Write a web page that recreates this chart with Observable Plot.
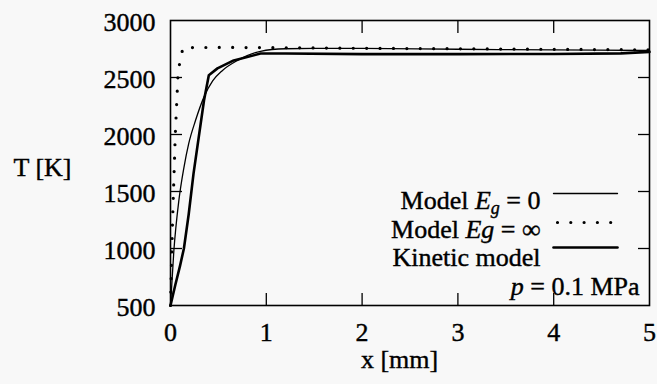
<!DOCTYPE html>
<html><head><meta charset="utf-8">
<script src="https://cdn.jsdelivr.net/npm/d3@7"></script>
<script src="https://cdn.jsdelivr.net/npm/@observablehq/plot@0.6"></script>
<style>
html,body{margin:0;padding:0;background:#f8f8f8}
#chart svg text{stroke:#000;stroke-width:0.4px;}
</style>
</head><body><div id="chart"></div>
<script>
// ---- data ----
const xTicks = [0, 1, 2, 3, 4, 5];
const yTicks = [500, 1000, 1500, 2000, 2500, 3000];

const eg0X = [0, 0.035, 0.087, 0.14, 0.19, 0.26, 0.35, 0.44, 0.54, 0.70, 0.94, 1.2, 1.5, 2, 3, 4, 5];
const eg0T = [500, 980, 1420, 1710, 1920, 2120, 2330, 2470, 2560, 2650, 2730, 2752, 2756, 2755, 2748, 2742, 2737];

const egInfX = [0, 0.02, 0.05, 0.08, 0.13, 0.5, 1, 2, 3, 4, 5];
const egInfT = [500, 1200, 2000, 2560, 2762, 2764, 2762, 2756, 2752, 2747, 2743];

const kinX = [0, 0.05, 0.1, 0.14, 0.19, 0.24, 0.35, 0.40, 0.49, 0.66, 0.94, 1.2, 2, 3, 4, 4.7, 5];
const kinT = [500, 680, 850, 1000, 1300, 1655, 2300, 2520, 2580, 2650, 2710, 2710, 2705, 2705, 2706, 2712, 2725];

const legendLabels = ["Model E_g = 0", "Model Eg = ∞", "Kinetic model"];
const pressureLabel = "p = 0.1 MPa";
const xLabel = "x [mm]";
const yLabel = "T [K]";

const toRows = (xs, ts) => xs.map((x, i) => ({x, T: ts[i]}));
const lineShape = {draw(context, l) { context.moveTo(0, 0); context.lineTo(0, -l); }};

const serif = "Liberation Serif, serif";
const inner = xTicks.slice(1, -1);
const innerY = yTicks.slice(1, -1);
// inward ticks: an axis whose ticks are shifted back across the frame edge
const tickOnly = {tickSize: 12, tickFormat: () => "", label: null, stroke: "#000", strokeWidth: 1.3};

const chart = Plot.plot({
  width: 657, height: 384,
  marginLeft: 170, marginRight: 8, marginTop: 20, marginBottom: 79,
  x: {domain: [0, 5]},
  y: {domain: [500, 3000]},
  style: {fontFamily: serif, fontSize: "26px", background: "#f8f8f8", color: "#000"},
  marks: [
    Plot.frame({stroke: "#000", fill: "none", strokeWidth: 1.6}),
    Plot.axisX(inner, {anchor: "bottom", dy: -12, ...tickOnly}),
    Plot.axisX(inner, {anchor: "top", dy: 12, ...tickOnly}),
    Plot.axisY(innerY, {anchor: "left", dx: 12, ...tickOnly}),
    Plot.axisY(innerY, {anchor: "right", dx: -12, ...tickOnly}),
    // tick labels
    Plot.axisX(xTicks, {anchor: "bottom", tickSize: 0, tickPadding: 17, label: null, tickFormat: d => String(d)}),
    Plot.axisY(yTicks, {anchor: "left", tickSize: 0, tickPadding: 15, label: null, dy: 2.5, tickFormat: d => String(d)}),
    // curves
    Plot.line(toRows(egInfX, egInfT), {x: "x", y: "T", stroke: "#000", strokeWidth: 3.2,
      strokeDasharray: "0,13.4", strokeLinecap: "round"}),
    Plot.line(toRows(eg0X, eg0T), {x: "x", y: "T", stroke: "#000", strokeWidth: 1.3, curve: "monotone-x"}),
    Plot.line(toRows(kinX, kinT), {x: "x", y: "T", stroke: "#000", strokeWidth: 2.6, strokeLinejoin: "round"}),
    // axis titles
    Plot.text([yLabel], {text: d => d, frameAnchor: "left", dx: -157, dy: 4.5, textAnchor: "start"}),
    Plot.text([xLabel], {text: d => d, frameAnchor: "bottom", dx: -10.5, dy: 62}),
    // legend
    ...legendLabels.map((lab, i) => Plot.text([lab], {text: d => d, frameAnchor: "top-right",
      textAnchor: "end", dx: -109, dy: [170, 199, 227.5][i], letterSpacing: "0.8px"})),
    Plot.vector([0], {frameAnchor: "top-right", dx: -96, dy: 173, length: 64, rotate: 90,
      anchor: "start", shape: lineShape, stroke: "#000", strokeWidth: 1.3}),
    Plot.vector([0], {frameAnchor: "top-right", dx: -92, dy: 202, length: 64, rotate: 90,
      anchor: "start", shape: lineShape, stroke: "#000", strokeWidth: 3.2,
      strokeDasharray: "0,13.3", strokeLinecap: "round"}),
    Plot.vector([0], {frameAnchor: "top-right", dx: -96, dy: 227, length: 64, rotate: 90,
      anchor: "start", shape: lineShape, stroke: "#000", strokeWidth: 2.6}),
    Plot.text([pressureLabel], {text: d => d, frameAnchor: "top-right", textAnchor: "end",
      dx: -10, dy: 256.5, letterSpacing: "0.5px"})
  ]
});

// typeset math-style parts of the legend labels
chart.querySelectorAll("text").forEach(t => {
  const s = t.textContent;
  if (s === "Model E_g = 0") {
    t.innerHTML = 'Model <tspan font-style="italic">E</tspan><tspan font-style="italic" font-size="18" dy="5">g</tspan><tspan dy="-5"> = 0</tspan>';
  } else if (s === "Model Eg = ∞") {
    t.innerHTML = 'Model <tspan font-style="italic">Eg</tspan> = ∞';
  } else if (s === "p = 0.1 MPa") {
    t.innerHTML = '<tspan font-style="italic">p</tspan> = 0.1 MPa';
  }
});

document.getElementById("chart").appendChild(chart);
</script>
</body></html>
